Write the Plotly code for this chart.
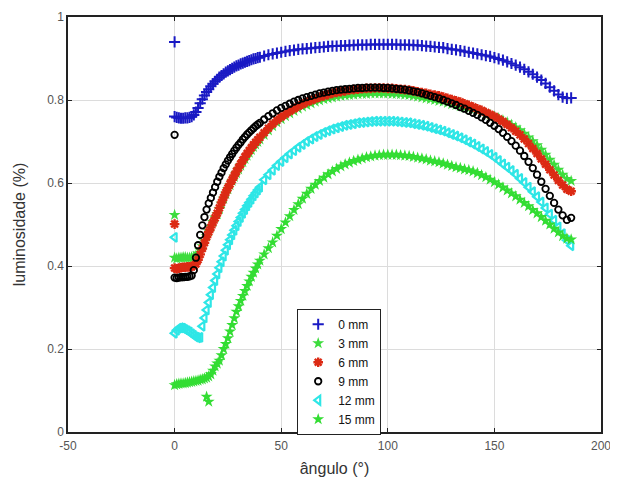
import plotly.graph_objects as go

# sample angles (degrees)
angles = list(range(0, 41)) + list(range(42, 187, 2))

lum_0mm = [
    0.760, 0.758, 0.757, 0.756, 0.756, 0.757, 0.757, 0.758, 0.760, 0.764,
    0.771, 0.781, 0.792, 0.802, 0.811, 0.819, 0.826, 0.833, 0.839, 0.845,
    0.850, 0.855, 0.859, 0.863, 0.867, 0.870, 0.873, 0.876, 0.879, 0.882,
    0.884, 0.887, 0.889, 0.891, 0.893, 0.895, 0.897, 0.899, 0.900, 0.902,
    0.903,
    0.906, 0.909, 0.911, 0.913, 0.915, 0.917, 0.919, 0.920, 0.922, 0.923,
    0.924, 0.925, 0.926, 0.927, 0.928, 0.929, 0.930, 0.930, 0.931, 0.931,
    0.932, 0.932, 0.933, 0.933, 0.933, 0.934, 0.934, 0.934, 0.934, 0.934,
    0.934, 0.934, 0.933, 0.933, 0.933, 0.932, 0.932, 0.931, 0.930, 0.929,
    0.928, 0.927, 0.926, 0.924, 0.922, 0.921, 0.919, 0.917, 0.915, 0.913,
    0.911, 0.909, 0.907, 0.905, 0.902, 0.899, 0.896, 0.892, 0.888, 0.884,
    0.879, 0.874, 0.868, 0.862, 0.855, 0.848, 0.840, 0.831, 0.822, 0.813,
    0.807, 0.804, 0.805,
]
lum_3mm = [
    0.420, 0.418, 0.420, 0.420, 0.421, 0.421, 0.420, 0.420, 0.421, 0.422,
    0.425, 0.430, 0.438, 0.448, 0.460, 0.472, 0.484, 0.495, 0.506, 0.517,
    0.525, 0.537, 0.550, 0.562, 0.574, 0.585, 0.595, 0.605, 0.615, 0.624,
    0.633, 0.642, 0.650, 0.658, 0.666, 0.673, 0.680, 0.687, 0.693, 0.699,
    0.705,
    0.716, 0.727, 0.737, 0.746, 0.754, 0.761, 0.768, 0.774, 0.779, 0.784,
    0.788, 0.792, 0.796, 0.799, 0.802, 0.804, 0.806, 0.808, 0.810, 0.811,
    0.812, 0.813, 0.814, 0.815, 0.815, 0.816, 0.816, 0.816, 0.816, 0.816,
    0.815, 0.815, 0.814, 0.813, 0.812, 0.810, 0.808, 0.806, 0.804, 0.802,
    0.800, 0.798, 0.796, 0.793, 0.790, 0.788, 0.785, 0.782, 0.779, 0.776,
    0.773, 0.770, 0.767, 0.764, 0.760, 0.756, 0.751, 0.746, 0.740, 0.734,
    0.727, 0.719, 0.710, 0.701, 0.691, 0.680, 0.668, 0.656, 0.644, 0.632,
    0.620, 0.610, 0.605,
]
lum_6mm = [
    0.395, 0.393, 0.395, 0.396, 0.397, 0.397, 0.398, 0.398, 0.399, 0.400,
    0.405, 0.415, 0.428, 0.442, 0.456, 0.470, 0.482, 0.493, 0.505, 0.516,
    0.527, 0.540, 0.553, 0.565, 0.577, 0.588, 0.598, 0.608, 0.618, 0.628,
    0.637, 0.646, 0.655, 0.663, 0.671, 0.678, 0.685, 0.692, 0.698, 0.704,
    0.710,
    0.721, 0.732, 0.742, 0.751, 0.759, 0.766, 0.773, 0.779, 0.785, 0.790,
    0.795, 0.799, 0.803, 0.807, 0.810, 0.813, 0.816, 0.818, 0.820, 0.822,
    0.824, 0.825, 0.826, 0.827, 0.828, 0.828, 0.829, 0.829, 0.829, 0.828,
    0.828, 0.827, 0.826, 0.825, 0.824, 0.822, 0.820, 0.818, 0.816, 0.814,
    0.812, 0.810, 0.807, 0.804, 0.801, 0.798, 0.795, 0.791, 0.787, 0.783,
    0.779, 0.775, 0.770, 0.765, 0.760, 0.754, 0.748, 0.741, 0.733, 0.725,
    0.716, 0.706, 0.695, 0.683, 0.671, 0.658, 0.645, 0.632, 0.619, 0.606,
    0.595, 0.585, 0.580,
]
lum_9mm = [
    0.372, 0.371, 0.372, 0.373, 0.373, 0.374, 0.374, 0.375, 0.377, 0.390,
    0.420, 0.450, 0.475, 0.498, 0.518, 0.536, 0.551, 0.564, 0.577, 0.590,
    0.603, 0.615, 0.625, 0.636, 0.645, 0.654, 0.662, 0.670, 0.678, 0.685,
    0.692, 0.698, 0.705, 0.711, 0.717, 0.722, 0.727, 0.732, 0.737, 0.741,
    0.745,
    0.753, 0.761, 0.768, 0.775, 0.781, 0.786, 0.791, 0.796, 0.800, 0.804,
    0.807, 0.810, 0.813, 0.816, 0.818, 0.820, 0.822, 0.824, 0.825, 0.826,
    0.827, 0.828, 0.829, 0.829, 0.830, 0.830, 0.830, 0.830, 0.829, 0.829,
    0.828, 0.827, 0.826, 0.825, 0.823, 0.821, 0.819, 0.816, 0.813, 0.810,
    0.807, 0.804, 0.800, 0.796, 0.792, 0.788, 0.783, 0.779, 0.774, 0.769,
    0.764, 0.758, 0.752, 0.745, 0.738, 0.730, 0.721, 0.711, 0.701, 0.690,
    0.678, 0.665, 0.651, 0.636, 0.620, 0.603, 0.586, 0.569, 0.552, 0.536,
    0.522, 0.511, 0.516,
]
lum_12mm = [
    0.238, 0.245, 0.250, 0.251, 0.250, 0.247, 0.244, 0.241, 0.237, 0.233,
    0.229, 0.227, 0.228, 0.255, 0.275, 0.294, 0.312, 0.331, 0.348, 0.365,
    0.381, 0.396, 0.410, 0.424, 0.438, 0.451, 0.463, 0.475, 0.486, 0.497,
    0.507, 0.517, 0.527, 0.536, 0.545, 0.553, 0.561, 0.569, 0.576, 0.583,
    0.590,
    0.608, 0.620, 0.631, 0.642, 0.652, 0.661, 0.670, 0.678, 0.686, 0.693,
    0.700, 0.706, 0.712, 0.717, 0.722, 0.726, 0.730, 0.733, 0.736, 0.739,
    0.741, 0.743, 0.745, 0.746, 0.747, 0.748, 0.749, 0.749, 0.749, 0.749,
    0.749, 0.748, 0.747, 0.746, 0.745, 0.743, 0.741, 0.739, 0.737, 0.734,
    0.731, 0.728, 0.725, 0.721, 0.717, 0.713, 0.709, 0.704, 0.699, 0.694,
    0.688, 0.682, 0.676, 0.669, 0.662, 0.654, 0.646, 0.638, 0.630, 0.621,
    0.611, 0.601, 0.590, 0.579, 0.567, 0.554, 0.540, 0.525, 0.510, 0.494,
    0.478, 0.462, 0.449,
]
lum_15mm = [
    0.113, 0.115, 0.116, 0.117, 0.117, 0.118, 0.119, 0.120, 0.121, 0.122,
    0.123, 0.124, 0.126, 0.127, 0.129, 0.131, 0.134, 0.139, 0.148, 0.158,
    0.165, 0.172, 0.185, 0.200, 0.212, 0.226, 0.242, 0.258, 0.274, 0.290,
    0.303, 0.316, 0.328, 0.340, 0.352, 0.363, 0.374, 0.384, 0.394, 0.404,
    0.413,
    0.428, 0.443, 0.457, 0.473, 0.489, 0.505, 0.520, 0.535, 0.549, 0.562,
    0.574, 0.586, 0.596, 0.605, 0.613, 0.621, 0.628, 0.634, 0.640, 0.645,
    0.649, 0.653, 0.656, 0.659, 0.662, 0.664, 0.666, 0.667, 0.668, 0.668,
    0.668, 0.668, 0.667, 0.666, 0.665, 0.663, 0.661, 0.659, 0.657, 0.654,
    0.652, 0.650, 0.647, 0.644, 0.641, 0.638, 0.636, 0.633, 0.631, 0.628,
    0.624, 0.619, 0.614, 0.608, 0.602, 0.596, 0.589, 0.582, 0.575, 0.568,
    0.560, 0.552, 0.544, 0.535, 0.527, 0.518, 0.509, 0.500, 0.490, 0.481,
    0.472, 0.466, 0.464,
]

# isolated outlier readings per series
out_x_0mm, out_y_0mm = [0], [0.940]
out_x_3mm, out_y_3mm = [0], [0.523]
out_x_6mm, out_y_6mm = [0], [0.501]
out_x_9mm, out_y_9mm = [0], [0.716]
out_x_12mm, out_y_12mm = [0], [0.469]
out_x_15mm, out_y_15mm = [15, 16], [0.085, 0.073]

labels = ["0 mm", "3 mm", "6 mm", "9 mm", "12 mm", "15 mm"]
x_ticks = [-50, 0, 50, 100, 150, 200]
x_tick_text = ["-50", "0", "50", "100", "150", "200"]
y_ticks = [0, 0.2, 0.4, 0.6, 0.8, 1]
y_tick_text = ["0", "0.2", "0.4", "0.6", "0.8", "1"]

series = [
    (labels[0], lum_0mm, out_x_0mm, out_y_0mm,
     dict(symbol="cross-thin-open", color="#1a1ac4", size=8, line=dict(width=2, color="#1a1ac4"))),
    (labels[1], lum_3mm, out_x_3mm, out_y_3mm,
     dict(symbol="star", color="#3ddc3d", size=9, line=dict(width=0))),
    (labels[2], lum_6mm, out_x_6mm, out_y_6mm,
     dict(symbol="asterisk-open", color="#dc2a14", size=8, line=dict(width=2.4, color="#dc2a14"))),
    (labels[3], lum_9mm, out_x_9mm, out_y_9mm,
     dict(symbol="circle-open", color="#000000", size=6.5, line=dict(width=1.8, color="#000000"))),
    (labels[4], lum_12mm, out_x_12mm, out_y_12mm,
     dict(symbol="triangle-left-open", color="#2ee6e6", size=8, line=dict(width=2.2, color="#2ee6e6"))),
    (labels[5], lum_15mm, out_x_15mm, out_y_15mm,
     dict(symbol="star", color="#33dd33", size=9, line=dict(width=0))),
]

fig = go.Figure()
for name, vals, ox, oy, mk in series:
    fig.add_trace(go.Scatter(
        x=list(angles) + ox, y=list(vals) + oy, mode="markers", name=name,
        marker=mk,
    ))

# page body has an 8px default margin, so the figure is 610x476 and offset
font_family = "Liberation Sans, Arial, sans-serif"
fig.update_layout(
    width=610, height=476,
    margin=dict(l=60, r=17, t=9, b=52, autoexpand=False),
    paper_bgcolor="white", plot_bgcolor="white",
    font=dict(family=font_family, size=12, color="#444444"),
    showlegend=True,
    legend=dict(
        x=0.43, y=0.297, xanchor="left", yanchor="top",
        bgcolor="white", bordercolor="#222222", borderwidth=1,
        font=dict(family=font_family, size=12, color="#111111"),
        tracegroupgap=0, itemwidth=30,
    ),
)
fig.update_xaxes(
    range=[-50, 200], tickvals=x_ticks, ticktext=x_tick_text, automargin=False,
    showgrid=True, gridcolor="#dcdcdc", gridwidth=1, zeroline=False,
    showline=True, linecolor="#222222", linewidth=1.5, mirror="ticks",
    ticks="inside", ticklen=4, tickcolor="#222222",
    tickfont=dict(size=12, color="#555555"), ticklabelstandoff=2,
    title=dict(text="ângulo (°)", font=dict(size=16, color="#333333"), standoff=11),
)
fig.update_yaxes(
    range=[0, 1], tickvals=y_ticks, ticktext=y_tick_text, automargin=False,
    showgrid=True, gridcolor="#dcdcdc", gridwidth=1, zeroline=False,
    showline=True, linecolor="#222222", linewidth=1.5, mirror="ticks",
    ticks="inside", ticklen=4, tickcolor="#222222",
    tickfont=dict(size=12, color="#555555"),
    title=dict(text="luminosidade (%)", font=dict(size=16, color="#333333"), standoff=18),
)

fig.write_html("out.html")
